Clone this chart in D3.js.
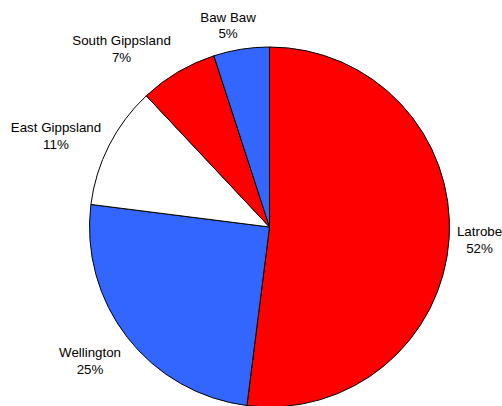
<!DOCTYPE html>
<html>
<head>
<meta charset="utf-8">
<script src="https://cdn.jsdelivr.net/npm/d3@7"></script>
<style>
  html, body { margin: 0; padding: 0; background: #fff; }
  svg { display: block; }
</style>
</head>
<body>
<svg id="chart" width="502" height="406"></svg>
<script>
// ---- data ----
const categories = ["Latrobe", "Wellington", "East Gippsland", "South Gippsland", "Baw Baw"];
const shares = [52, 25, 11, 7, 5];
const percentLabels = ["52%", "25%", "11%", "7%", "5%"];
const sliceColors = ["#FF0000", "#3366FF", "#FFFFFF", "#FF0000", "#3366FF"];

// ---- layout (styling only) ----
const width = 502, height = 406;
const cx = 269.5, cy = 227, radius = 180, labelRadius = 228;
const lineGap = 16.5;
// label nudges (dx, dy) relative to the point at labelRadius on the slice mid-angle
const labelNudge = [[-17.5, -5.3], [0.7, -9.7], [-10.4, 9.0], [-31.9, 14.3], [-5.8, 19.7]];

const svg = d3.select("#chart");
const g = svg.append("g").attr("transform", `translate(${cx},${cy})`);

const pie = d3.pie().value(d => d.value).sort(null);
const arcs = pie(categories.map((c, i) => ({ name: c, value: shares[i], i })));

const arc = d3.arc().innerRadius(0).outerRadius(radius);

g.selectAll("path.slice")
  .data(arcs)
  .join("path")
  .attr("class", "slice")
  .attr("d", arc)
  .attr("fill", d => sliceColors[d.data.i])
  .attr("stroke", "#000")
  .attr("stroke-width", 1)
  .attr("stroke-linejoin", "round");

const labels = g.selectAll("text.lbl")
  .data(arcs)
  .join("text")
  .attr("class", "lbl")
  .attr("text-anchor", "middle")
  .attr("font-family", "Arial, 'Liberation Sans', sans-serif")
  .attr("font-size", "13.33px")
  .attr("fill", "#000")
  .attr("transform", d => {
    const a = (d.startAngle + d.endAngle) / 2;
    const n = labelNudge[d.data.i];
    const x = labelRadius * Math.sin(a) + n[0];
    const y = -labelRadius * Math.cos(a) + n[1];
    return `translate(${x},${y})`;
  });

labels.append("tspan").attr("x", 0).attr("y", 0).text(d => d.data.name);
labels.append("tspan").attr("x", 0).attr("y", lineGap).text(d => percentLabels[d.data.i]);
</script>
</body>
</html>
